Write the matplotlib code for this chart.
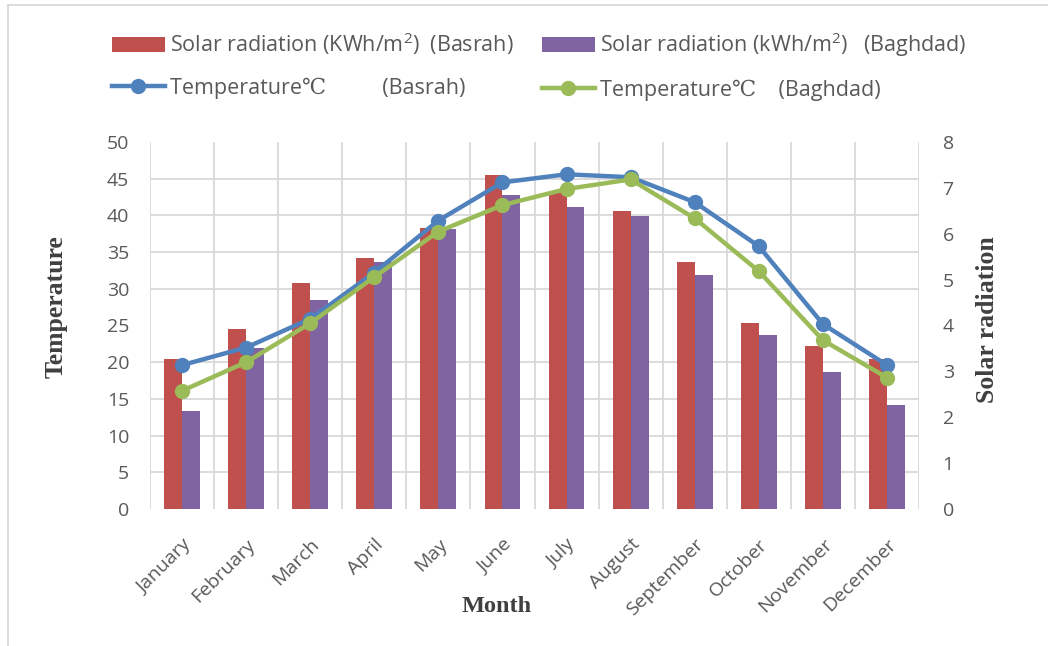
import matplotlib
matplotlib.use("Agg")
import matplotlib.pyplot as plt
import numpy as np
from matplotlib.ticker import MultipleLocator, FixedLocator
from matplotlib.lines import Line2D
from matplotlib.patches import Patch
from matplotlib.font_manager import FontProperties

months = ["January", "February", "March", "April", "May", "June", "July",
          "August", "September", "October", "November", "December"]
temp_basrah = [19.6, 22.0, 25.9, 32.2, 39.3, 44.5, 45.6, 45.2, 41.8, 35.8, 25.2, 19.6]
temp_baghdad = [16.1, 20.0, 25.3, 31.6, 37.8, 41.4, 43.6, 44.9, 39.6, 32.4, 23.0, 17.9]
solar_basrah = [3.27, 3.92, 4.92, 5.48, 6.13, 7.28, 6.92, 6.50, 5.38, 4.06, 3.56, 3.28]
solar_baghdad = [2.14, 3.52, 4.55, 5.38, 6.10, 6.84, 6.59, 6.39, 5.09, 3.79, 2.98, 2.27]

RED, PURPLE, BLUE, GREEN = "#C0504D", "#8064A2", "#4F81BD", "#9BBB59"
TXT = "#595959"
TITLE = "#404040"
GRID = "#D9D9D9"

plt.rcParams["font.family"] = ["Open Sans", "DejaVu Sans"]
plt.rcParams["mathtext.fontset"] = "custom"
plt.rcParams["mathtext.rm"] = "Open Sans"
plt.rcParams["mathtext.it"] = "Open Sans:italic"

W, H = 1048, 646
fig = plt.figure(figsize=(W / 100, H / 100), dpi=100)
fig.patch.set_facecolor("white")

left, right, top, bottom = 150, 919, 142, 509
ax_t = fig.add_axes([left / W, 1 - bottom / H, (right - left) / W, (bottom - top) / H])
ax_s = ax_t.twinx()

x = np.arange(len(months))
bw = 0.28

# solar radiation bars on the right-hand axis, kept underneath the lines
ax_s.set_zorder(1)
ax_t.set_zorder(2)
ax_t.patch.set_visible(False)
ax_s.bar(x - bw / 2, solar_basrah, bw, color=RED, zorder=3)
ax_s.bar(x + bw / 2, solar_baghdad, bw, color=PURPLE, zorder=3)
ax_s.set_ylim(0, 8)
ax_s.yaxis.set_major_locator(MultipleLocator(1))
ax_s.yaxis.set_minor_locator(FixedLocator(np.linspace(0, 8, 11)))
ax_s.grid(which="minor", axis="y", color=GRID, lw=1.3, zorder=0)
ax_s.set_axisbelow(True)
ax_s.tick_params(which="both", length=0)
ax_s.tick_params(axis="y", which="major", labelsize=14, labelcolor=TXT, pad=17)

# temperature lines on the left-hand axis
ax_t.plot(x, temp_basrah, color=BLUE, lw=3.2, marker="o", ms=10, zorder=4)
ax_t.plot(x, temp_baghdad, color=GREEN, lw=3.2, marker="o", ms=10, zorder=5)
ax_t.set_ylim(0, 50)
ax_t.set_xlim(-0.5, 11.5)
ax_t.yaxis.set_major_locator(MultipleLocator(5))
ax_t.set_xticks(x)
ax_t.set_xticklabels(months, rotation=45, ha="right", va="top", rotation_mode="anchor")
# vertical separators between months
ax_t.xaxis.set_minor_locator(FixedLocator(np.arange(-0.5, 12, 1)))
ax_t.grid(which="minor", axis="x", color=GRID, lw=1.3, zorder=0)
ax_t.tick_params(which="both", length=0, labelsize=14, labelcolor=TXT)
ax_t.tick_params(axis="y", pad=15)
ax_t.tick_params(axis="x", pad=19)

for a in (ax_t, ax_s):
    for sp in a.spines.values():
        sp.set_visible(False)

title_kw = dict(family="Liberation Serif", fontweight="bold", color=TITLE)
fig.text(56 / W, 1 - 307 / H, "Temperature", rotation=90, ha="center",
         va="center", fontsize=18.5, **title_kw)
fig.text(988 / W, 1 - 320 / H, "Solar radiation", rotation=90, ha="center",
         va="center", fontsize=18.5, **title_kw)
fig.text(497 / W, 1 - 606 / H, "Month", ha="center", va="center",
         fontsize=17.5, **title_kw)

handles = [
    Patch(facecolor=RED),
    Line2D([], [], color=BLUE, lw=3.2, marker="o", ms=10),
    Patch(facecolor=PURPLE),
    Line2D([], [], color=GREEN, lw=3.2, marker="o", ms=10),
]
labels = [
    "Solar radiation (KWh/m$^{2}$)  (Basrah)",
    "Temperature\u2103          (Basrah)",
    "Solar radiation (kWh/m$^{2}$)   (Baghdad)",
    "Temperature\u2103    (Baghdad)",
]
leg_font = FontProperties(family=["Open Sans", "DejaVu Serif"], size=15.5)
fig.legend(handles, labels, ncol=2, loc="upper left",
           bbox_to_anchor=(112 / W, 1 - 30 / H), bbox_transform=fig.transFigure,
           frameon=False, prop=leg_font, labelcolor=TXT, handlelength=2.45,
           handletextpad=0.25, columnspacing=1.3, labelspacing=0.98,
           borderpad=0, borderaxespad=0)

# light outer frame
fig.add_artist(Line2D([8 / W, 8 / W], [0, 1 - 5 / H], color=GRID, lw=1.3,
                      transform=fig.transFigure))
fig.add_artist(Line2D([8 / W, 1], [1 - 5 / H, 1 - 5 / H], color=GRID, lw=1.3,
                      transform=fig.transFigure))

fig.savefig("out.png", dpi=100)
